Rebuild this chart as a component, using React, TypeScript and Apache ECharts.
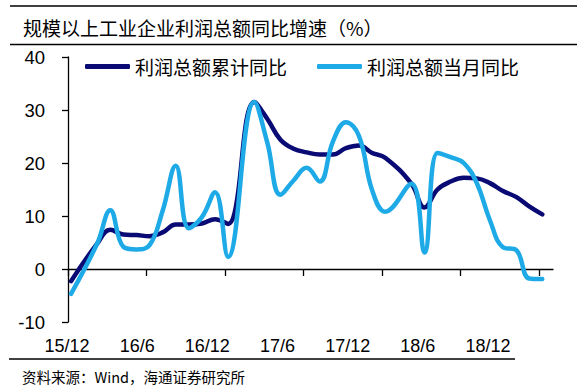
import React, { useEffect, useRef } from "react";
import * as echarts from "echarts";

// Months from 2015/12 to 2018/12 (January figures are not published separately)
const months = [
  "15/12", "16/1", "16/2", "16/3", "16/4", "16/5", "16/6", "16/7", "16/8", "16/9", "16/10", "16/11", "16/12",
  "17/1", "17/2", "17/3", "17/4", "17/5", "17/6", "17/7", "17/8", "17/9", "17/10", "17/11", "17/12",
  "18/1", "18/2", "18/3", "18/4", "18/5", "18/6", "18/7", "18/8", "18/9", "18/10", "18/11", "18/12",
];

const cumulativeYoY: (number | null)[] = [
  -2.3, null, 4.8, 7.4, 6.5, 6.4, 6.2, 6.9, 8.4, 8.4, 8.6, 9.4, 8.5,
  null, 31.5, 28.3, 24.4, 22.7, 22.0, 21.6, 21.6, 22.8, 23.3, 21.9, 21.0,
  null, 16.1, 11.6, 15.0, 16.5, 17.2, 17.1, 16.2, 14.7, 13.6, 11.8, 10.3,
];

const monthlyYoY: (number | null)[] = [
  -4.7, null, 4.8, 11.1, 4.2, 3.7, 4.5, 11.0, 19.5, 7.7, 9.8, 14.5, 2.3,
  null, 31.5, 23.8, 14.0, 16.7, 19.1, 16.5, 24.0, 27.7, 25.1, 14.9, 10.8,
  null, 16.1, 3.1, 21.9, 21.1, 20.0, 16.2, 9.2, 4.1, 3.6, -1.8, -1.9,
];

const xTickLabels = ["15/12", "16/6", "16/12", "17/6", "17/12", "18/6", "18/12"];
const xTickMonths = ["15/12", "16/6", "16/12", "17/6", "17/12", "18/6", "18/12"];

const seriesNames = ["利润总额累计同比", "利润总额当月同比"];
const seriesColors = ["#0a0a74", "#1eaae6"];

const titleText = "规模以上工业企业利润总额同比增速（%）";
const sourceText = "资料来源：Wind，海通证券研究所";

function toPoints(vals: (number | null)[]) {
  const pts: [number, number][] = [];
  vals.forEach((v, i) => {
    if (v !== null) pts.push([i, v]);
  });
  return pts;
}

export default function App() {
  const ref = useRef<HTMLDivElement>(null);

  useEffect(() => {
    if (!ref.current) return;
    const chart = echarts.init(ref.current, undefined, { renderer: "svg" });
    const cjk = '"Noto Sans CJK SC", sans-serif';
    const latin = '"Liberation Sans", Arial, sans-serif';
    const axisMax = 37.05;
    const dataShift = 0.23;
    const legendBase = {
      top: 57,
      padding: 0,
      itemWidth: 45,
      itemHeight: 5,
      icon: "roundRect",
      textStyle: { fontSize: 19, fontFamily: cjk, color: "#000" },
    };
    const option: any = {
      animation: false,
      backgroundColor: "#ffffff",
      graphic: [
        { type: "line", shape: { x1: 10, y1: 6, x2: 577, y2: 6 }, style: { stroke: "#000", lineWidth: 1.3 } },
        { type: "line", shape: { x1: 10, y1: 44.5, x2: 577, y2: 44.5 }, style: { stroke: "#000", lineWidth: 1.3 } },
        { type: "line", shape: { x1: 9, y1: 359, x2: 515, y2: 359 }, style: { stroke: "#000", lineWidth: 1.3 } },
        {
          type: "text",
          x: 23,
          y: 27,
          style: { text: titleText, fontSize: 19, fontFamily: cjk, fill: "#000", verticalAlign: "middle" },
        },
        {
          type: "text",
          x: 22,
          y: 376,
          style: { text: sourceText, fontSize: 14.5, fontFamily: cjk, fill: "#000", verticalAlign: "middle" },
        },
      ],
      legend: [
        { ...legendBase, data: [seriesNames[0]], left: 85 },
        { ...legendBase, data: [seriesNames[1]], left: 317 },
      ],
      grid: [
        { left: 68, right: 33, top: 57, bottom: 65 },
        { left: 67, right: 98, top: 330, height: 1 },
      ],
      xAxis: [
        {
          type: "value",
          gridIndex: 0,
          min: 0,
          max: axisMax,
          splitLine: { show: false },
          axisLine: { show: true, onZero: true, lineStyle: { color: "#000", width: 1.3 } },
          axisTick: {
            show: true,
            length: 7,
            inside: false,
            lineStyle: { color: "#000", width: 1.3 },
            customValues: xTickMonths.map((m) => months.indexOf(m)),
          },
          axisLabel: { show: false },
        },
        {
          type: "category",
          gridIndex: 1,
          data: xTickLabels,
          boundaryGap: false,
          axisLine: { show: false },
          axisTick: { show: false },
          splitLine: { show: false },
          axisLabel: { interval: 0, margin: 6, fontSize: 18, fontFamily: latin, color: "#000" },
        },
        {
          type: "value",
          gridIndex: 0,
          min: -dataShift,
          max: axisMax - dataShift,
          show: false,
        },
      ],
      yAxis: [
        {
          type: "value",
          gridIndex: 0,
          min: -10,
          max: 40,
          interval: 10,
          splitLine: { show: false },
          axisLine: { show: true, lineStyle: { color: "#000", width: 1.3 } },
          axisTick: { show: true, length: 6, inside: false, lineStyle: { color: "#000", width: 1.3 } },
          axisLabel: { margin: 23, fontSize: 18.5, fontFamily: latin, color: "#000" },
        },
        { type: "value", gridIndex: 1, show: false },
      ],
      series: [
        {
          name: seriesNames[0],
          type: "line",
          xAxisIndex: 2,
          yAxisIndex: 0,
          data: toPoints(cumulativeYoY),
          smooth: 0.42,
          symbol: "none",
          lineStyle: { width: 4.5, color: seriesColors[0], cap: "round", join: "round" },
          itemStyle: { color: seriesColors[0] },
          z: 2,
        },
        {
          name: seriesNames[1],
          type: "line",
          xAxisIndex: 2,
          yAxisIndex: 0,
          data: toPoints(monthlyYoY),
          smooth: 0.42,
          symbol: "none",
          lineStyle: { width: 4.5, color: seriesColors[1], cap: "round", join: "round" },
          itemStyle: { color: seriesColors[1] },
          z: 3,
        },
      ],
    };
    chart.setOption(option);
    return () => chart.dispose();
  }, []);

  return (
    <div
      ref={ref}
      style={{ position: "absolute", left: 0, top: 0, width: 586, height: 387, background: "#fff" }}
    />
  );
}
